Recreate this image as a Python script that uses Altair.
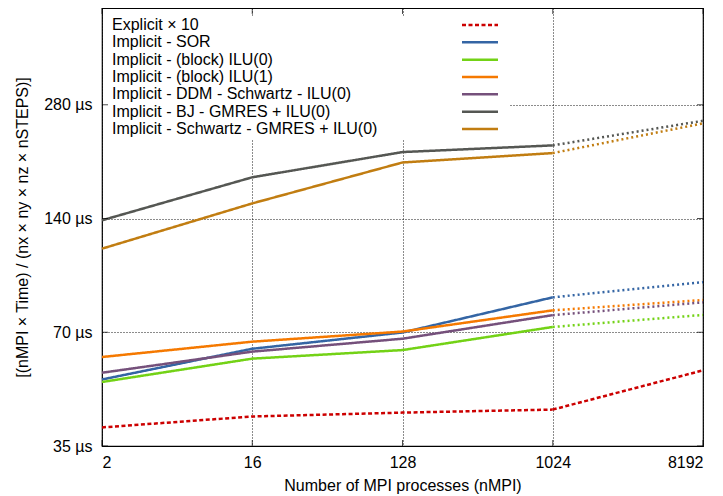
import altair as alt
import pandas as pd

# ---- data ----
nmpi = [2, 16, 128, 1024, 8192]
series = [
    "Explicit × 10",
    "Implicit - SOR",
    "Implicit - (block) ILU(0)",
    "Implicit - (block) ILU(1)",
    "Implicit - DDM - Schwartz - ILU(0)",
    "Implicit - BJ - GMRES + ILU(0)",
    "Implicit - Schwartz - GMRES + ILU(0)",
]
colors = ["#cc0000", "#3465a4", "#73d216", "#f57900", "#75507b", "#555753", "#c17d11"]

explicit_x10 = [39.2, 41.9, 42.9, 43.7, 55.5]
sor = [52.5, 63.3, 69.9, 86.6, 95.0]
block_ilu0 = [51.7, 59.6, 62.8, 72.3, 77.8]
block_ilu1 = [60.2, 66.1, 70.3, 80.0, 85.2]
ddm_schwartz = [54.7, 62.2, 67.3, 77.7, 84.0]
bj_gmres = [138.5, 180.0, 209.9, 218.6, 254.0]
schwartz_gmres = [116.5, 153.5, 197.0, 208.6, 250.0]

all_values = [explicit_x10, sor, block_ilu0, block_ilu1, ddm_schwartz, bj_gmres, schwartz_gmres]
y_ticks = [35, 70, 140, 280]

FONT = "Liberation Sans"
W, H = 601, 438

rows = []
for name, vals in zip(series, all_values):
    expl = name.startswith("Explicit")
    for i in range(4):
        rows.append(dict(series=name, nMPI=nmpi[i], value=vals[i], seg=name + "|m",
                         style="dashed" if expl else "solid"))
    for i in (3, 4):
        rows.append(dict(series=name, nMPI=nmpi[i], value=vals[i], seg=name + "|e",
                         style="dashed" if expl else "dotted"))
df = pd.DataFrame(rows)

leg = pd.DataFrame({"series": series,
                    "style": ["dashed" if s.startswith("Explicit") else "solid" for s in series]})
xt = pd.DataFrame({"nMPI": nmpi})
yt = pd.DataFrame({"value": y_ticks})

color_scale = alt.Scale(domain=series, range=colors)
dash_scale = alt.Scale(domain=["solid", "dotted", "dashed"], range=[[1, 0], [2, 3], [4, 2.5]])
y_scale = alt.Scale(type="log", domain=[35, 505], nice=False)

x_enc = alt.X("nMPI:Q",
              scale=alt.Scale(type="log", base=2, domain=[2, 8192], nice=False),
              axis=alt.Axis(values=nmpi, title="Number of MPI processes (nMPI)",
                            labelPadding=8, titlePadding=7, format="d"))
y_enc = alt.Y("value:Q", scale=y_scale,
              axis=alt.Axis(values=y_ticks, labelExpr="datum.value + ' µs'",
                            title="[(nMPI × Time) / (nx × ny × nz × nSTEPS)]",
                            labelPadding=10, titlePadding=13))
y_plain = alt.Y("value:Q", scale=y_scale, axis=None)

lines = alt.Chart(df).mark_line(strokeWidth=2.5, strokeCap="butt").encode(
    x=x_enc,
    y=y_enc,
    color=alt.Color("series:N", scale=color_scale, legend=None),
    strokeDash=alt.StrokeDash("style:N", scale=dash_scale, legend=None),
    detail="seg:N",
)

# inward axis ticks (gnuplot style) on all four borders
tick_style = dict(color="black", thickness=1, size=6)
xt_bottom = alt.Chart(xt).mark_tick(orient="vertical", **tick_style).encode(x=x_enc, y=alt.value(H - 3))
xt_top = alt.Chart(xt).mark_tick(orient="vertical", **tick_style).encode(x=x_enc, y=alt.value(3))
yt_left = alt.Chart(yt).mark_tick(orient="horizontal", **tick_style).encode(y=y_plain, x=alt.value(3))
yt_right = alt.Chart(yt).mark_tick(orient="horizontal", **tick_style).encode(y=y_plain, x=alt.value(W - 3))

legend_box = alt.Chart(leg).mark_rect(fill="white", stroke=None).encode(
    x=alt.value(1), x2=alt.value(407), y=alt.value(8), y2=alt.value(131)
)

leg_y = alt.Y("series:N", scale=alt.Scale(type="point", domain=series, range=[17, 121], padding=0),
              axis=None)

legend_text = alt.Chart(leg).mark_text(align="left", baseline="middle", fontSize=16,
                                        font=FONT, color="black").encode(
    x=alt.value(10), y=leg_y, text="series:N"
)
legend_lines = alt.Chart(leg).mark_rule(strokeWidth=2.5, strokeCap="butt").encode(
    x=alt.value(360), x2=alt.value(396), y=leg_y,
    color=alt.Color("series:N", scale=color_scale, legend=None),
    strokeDash=alt.StrokeDash("style:N", scale=dash_scale, legend=None),
)

chart = alt.layer(
    legend_box, lines, xt_bottom, xt_top, yt_left, yt_right, legend_text, legend_lines
).resolve_scale(
    y="independent"
).properties(
    width=W, height=H,
    autosize=alt.AutoSizeParams(type="none"),
    padding={"left": 94, "top": 0, "right": 12, "bottom": 50},
).configure_view(
    stroke="black", strokeWidth=1.2
).configure_axis(
    domain=False, ticks=False, grid=True, gridDash=[1, 2], gridColor="black", gridOpacity=0.9,
    labelFont=FONT, titleFont=FONT, labelFontSize=16, titleFontSize=16,
    labelColor="black", titleColor="black", titleFontWeight="normal",
)

chart.save("out.html", embed_options={"renderer": "svg", "actions": False})
